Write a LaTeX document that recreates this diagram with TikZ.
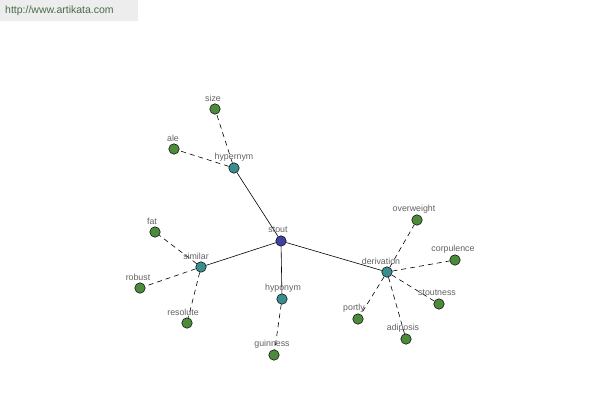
\documentclass[tikz,border=0pt]{standalone}
\usepackage{fontspec}
\setmainfont{Liberation Sans}
\definecolor{leafc}{HTML}{4C8A3C}
\definecolor{midc}{HTML}{3C8C8C}
\definecolor{rootc}{HTML}{4040A0}
\definecolor{wmc}{HTML}{4A6A4A}
\begin{document}
\begin{tikzpicture}[x=1pt,y=-1pt,
  leaf/.style={circle,draw=black,line width=0.5pt,fill=leafc,minimum size=10.5pt,inner sep=0pt},
  mid/.style={circle,draw=black,line width=0.5pt,fill=midc,minimum size=10.5pt,inner sep=0pt},
  root/.style={circle,draw=black,line width=0.5pt,fill=rootc,minimum size=10.5pt,inner sep=0pt},
  lbl/.style={text=black!62,font=\fontsize{8.8}{9}\selectfont,inner sep=0pt},
  solidedge/.style={draw=black,line width=0.6pt},
  dashedge/.style={draw=black,line width=0.6pt,dash pattern=on 5pt off 4pt}]
\useasboundingbox (0,0) rectangle (600,400);
\fill[black!7] (0,0) rectangle (138,21);
\node[text=wmc,font=\fontsize{10.5}{11}\selectfont,anchor=west,inner sep=0pt] (wm) at (5,11) {http://www.artikata.com};
% nodes
\node[root] (stout) at (281,241) {};
\node[mid] (hypernym) at (234,168) {};
\node[mid] (similar) at (201,267) {};
\node[mid] (hyponym) at (282,299) {};
\node[mid] (derivation) at (387,272) {};
\node[leaf] (size) at (215,109) {};
\node[leaf] (ale) at (174,149) {};
\node[leaf] (fat) at (155,232) {};
\node[leaf] (robust) at (140,288) {};
\node[leaf] (resolute) at (187,323) {};
\node[leaf] (guinness) at (274,355) {};
\node[leaf] (overweight) at (417,220) {};
\node[leaf] (corpulence) at (455,260) {};
\node[leaf] (stoutness) at (439,304) {};
\node[leaf] (adiposis) at (406,339) {};
\node[leaf] (portly) at (358,319) {};
% edges
\path[solidedge] (stout) -- (hypernym);
\path[solidedge] (stout) -- (similar);
\path[solidedge] (stout) -- (hyponym);
\path[solidedge] (stout) -- (derivation);
\path[dashedge] (hypernym) -- (size);
\path[dashedge] (hypernym) -- (ale);
\path[dashedge] (similar) -- (fat);
\path[dashedge] (similar) -- (robust);
\path[dashedge] (similar) -- (resolute);
\path[dashedge] (hyponym) -- (guinness);
\path[dashedge] (derivation) -- (overweight);
\path[dashedge] (derivation) -- (corpulence);
\path[dashedge] (derivation) -- (stoutness);
\path[dashedge] (derivation) -- (adiposis);
\path[dashedge] (derivation) -- (portly);
% labels
\node[lbl] (lsize) at (213,98) {size};
\node[lbl] (lale) at (173,138) {ale};
\node[lbl] (lhypernym) at (234,157) {hypernym};
\node[lbl] (lfat) at (152,221) {fat};
\node[lbl] (lsimilar) at (196,256) {similar};
\node[lbl] (lrobust) at (138,277) {robust};
\node[lbl] (lresolute) at (183,312) {resolute};
\node[lbl] (lstout) at (278,230) {stout};
\node[lbl] (lhyponym) at (283,288) {hyponym};
\node[lbl] (lguinness) at (272,344) {guinness};
\node[lbl] (loverweight) at (414,209) {overweight};
\node[lbl] (lcorpulence) at (453,249) {corpulence};
\node[lbl] (lderivation) at (381,261) {derivation};
\node[lbl] (lstoutness) at (437,293) {stoutness};
\node[lbl] (lportly) at (354,308) {portly};
\node[lbl] (ladiposis) at (403,328) {adiposis};
\end{tikzpicture}
\end{document}
